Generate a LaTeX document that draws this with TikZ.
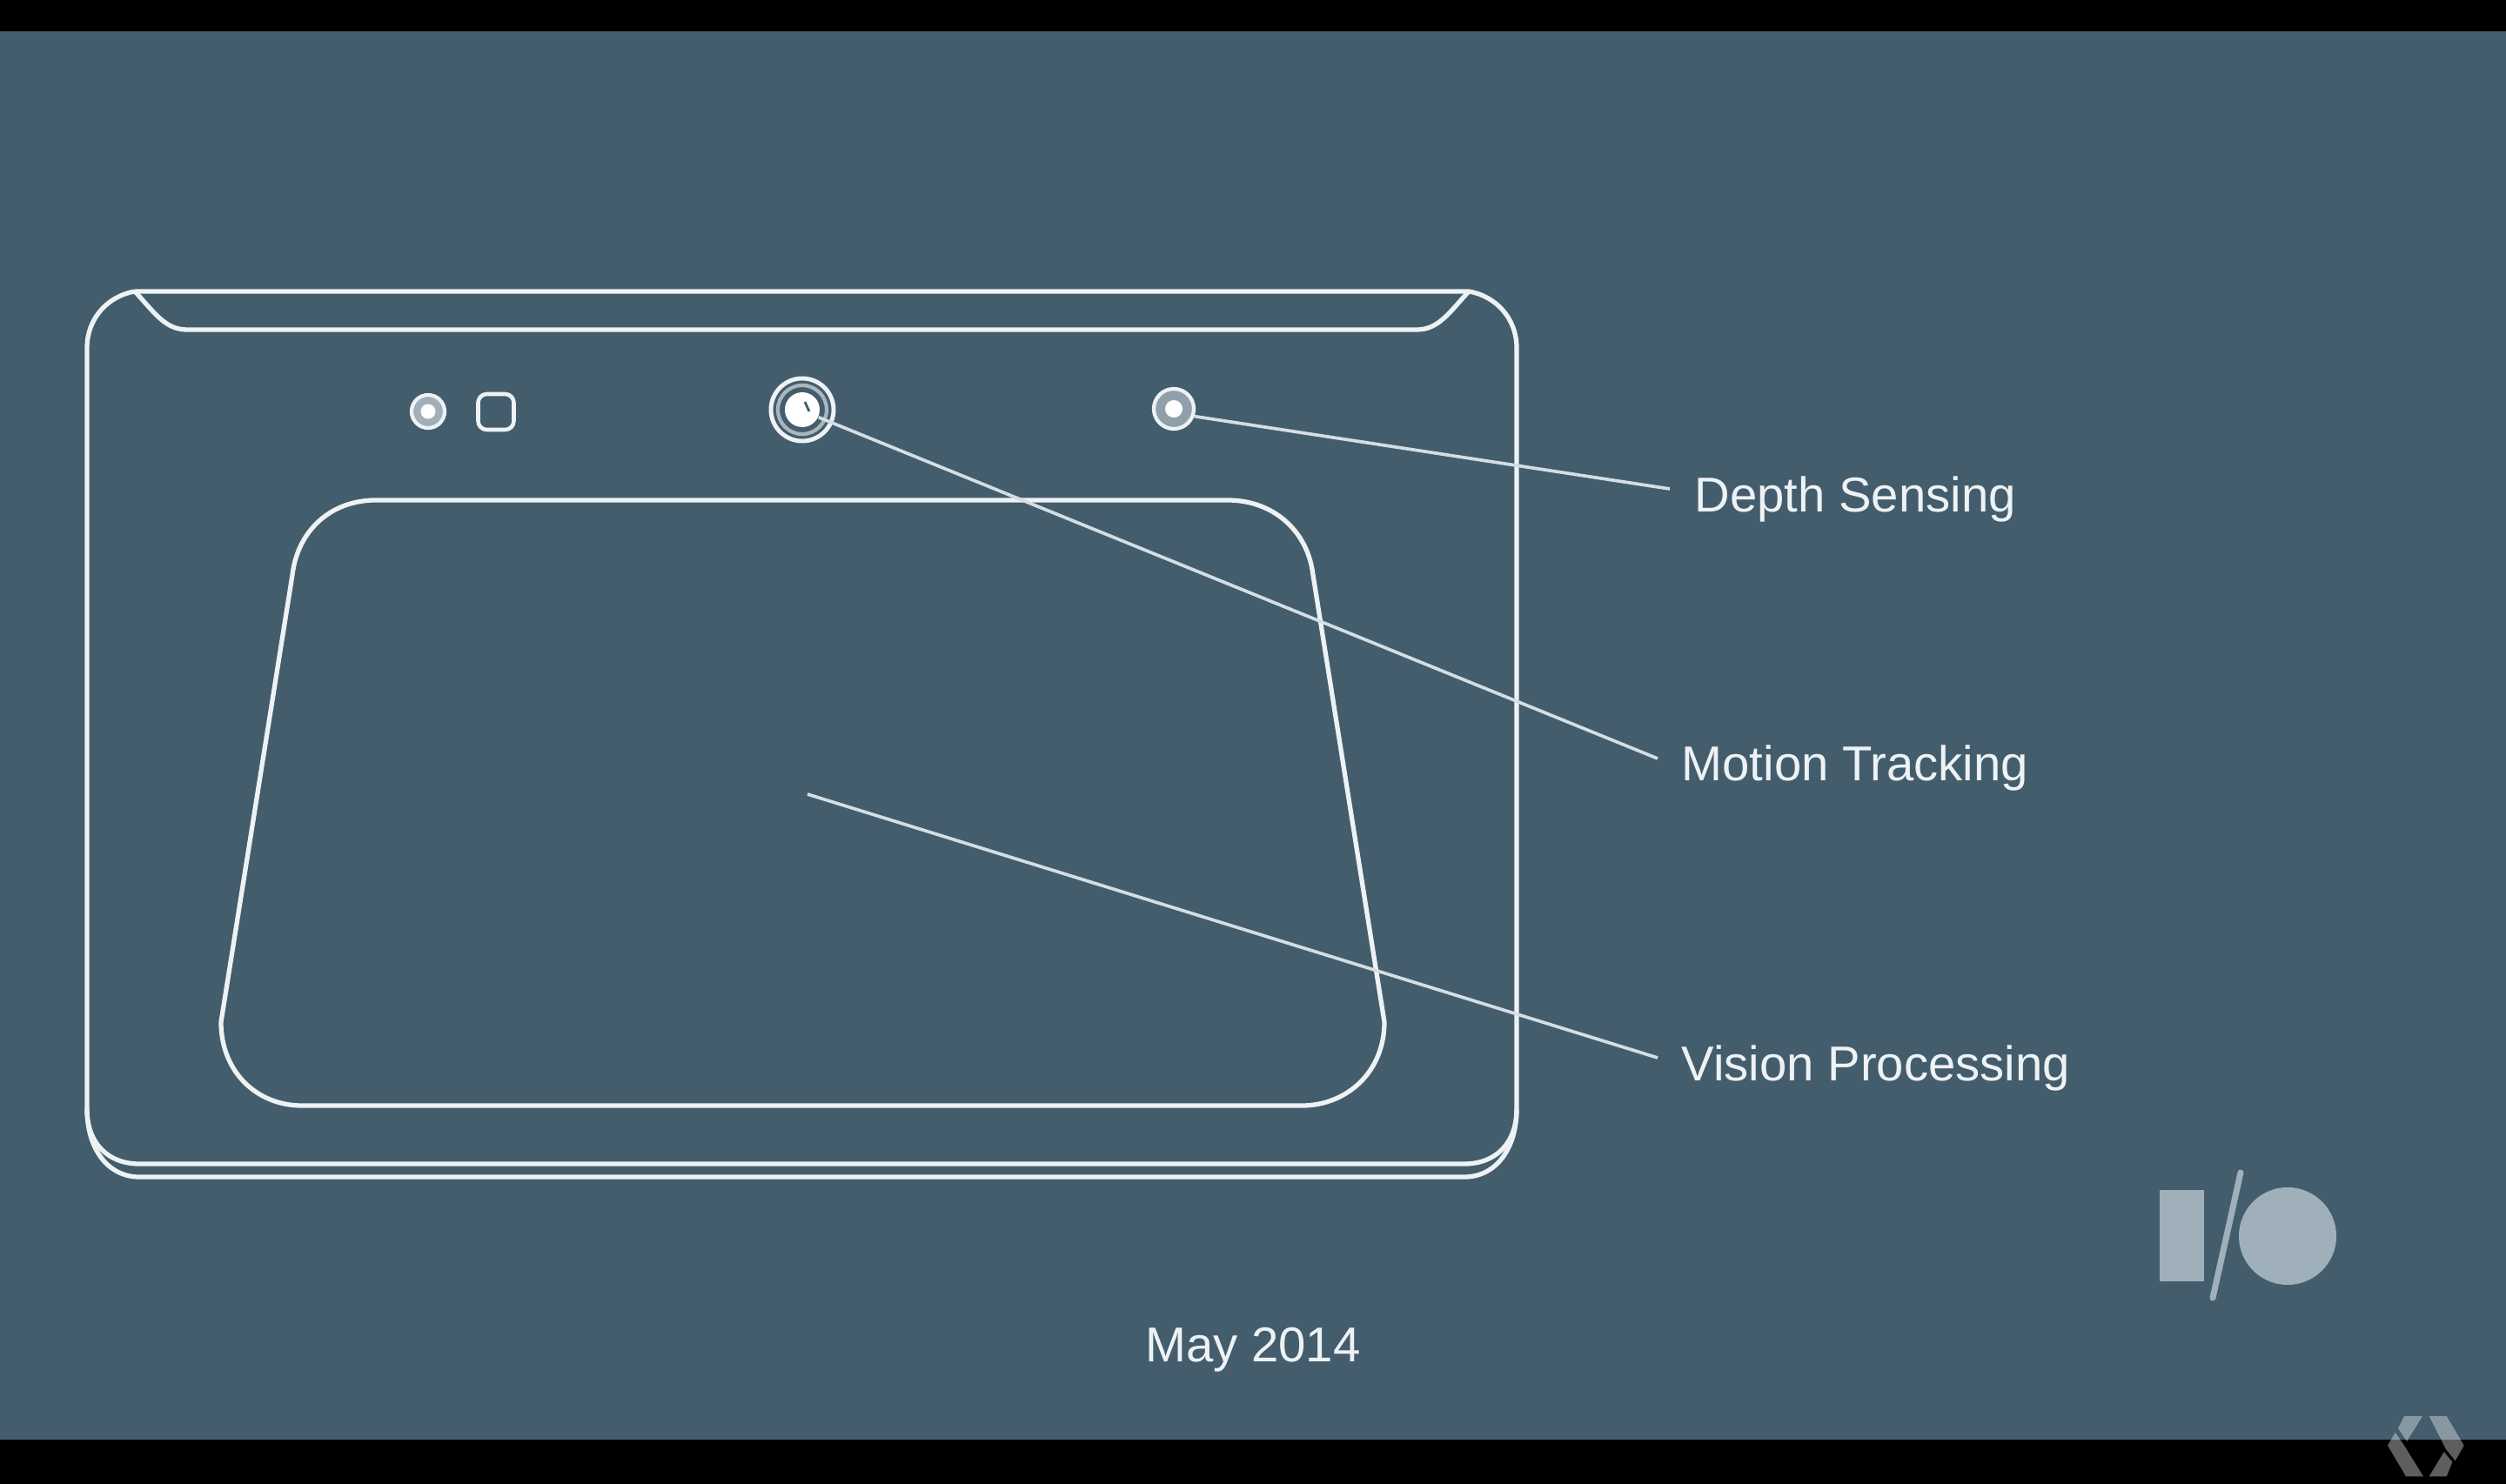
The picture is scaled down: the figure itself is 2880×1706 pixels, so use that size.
\documentclass[tikz,border=0pt]{standalone}
\usepackage{fontspec}
\setmainfont{Liberation Sans}
\definecolor{slatebg}{HTML}{445D6D}
\definecolor{outline}{HTML}{EDF2F4}
\definecolor{leadergrey}{HTML}{D5DEE3}
\definecolor{logogrey}{HTML}{9FB0BA}
\tikzset{
    body line/.style={draw=outline, line width=1.5pt},
    leader/.style={draw=leadergrey, line width=1.05pt},
    caption/.style={text=outline, font=\fontsize{16}{19}\selectfont, inner sep=0pt},
    badge/.style={fill=white, fill opacity=0.37},
}
\begin{document}
\begin{tikzpicture}[x=0.01cm, y=-0.01cm]
\useasboundingbox (0,0) rectangle (2880,1706);

\fill[black] (0,0) rectangle (2880,1706);
\fill[slatebg] (0,36) rectangle (2880,1655);

% Tablet outline
\draw[body line] (155,335) -- (1688,335) .. controls (1718,340) and (1743,365) .. (1743,400)
    -- (1743,1275) .. controls (1743,1315) and (1718,1338) .. (1683,1338) -- (160,1338)
    .. controls (125,1338) and (100,1315) .. (100,1275) -- (100,400)
    .. controls (100,365) and (125,340) .. (155,335);
% Lower edge
\draw[body line] (100,1275) .. controls (100,1322) and (125,1353) .. (160,1353) -- (1683,1353)
    .. controls (1718,1353) and (1743,1322) .. (1743,1275);
% Top notch
\draw[body line] (155,335) .. controls (178,360) and (190,379) .. (215,379) -- (1628,379)
    .. controls (1653,379) and (1665,360) .. (1688,335);

% Screen
\draw[body line] (432,575) -- (1411,575) .. controls (1463,575) and (1503,610) .. (1509,661)
    -- (1591,1175) .. controls (1591,1232) and (1548,1271) .. (1496,1271) -- (347,1271)
    .. controls (295,1271) and (254,1232) .. (254,1175) -- (336,661)
    .. controls (342,610) and (380,575) .. (432,575);

% Left sensors
\node[circle, draw=outline, line width=1.2pt, fill=outline!55!slatebg, minimum size=0.38cm, inner sep=0pt] (mic_ring) at (492,473) {};
\node[circle, fill=white, minimum size=0.17cm, inner sep=0pt] (mic_core) at (492,473) {};
\node[rectangle, rounded corners=0.1cm, draw=outline, line width=1.3pt, minimum width=0.41cm, minimum height=0.41cm, inner sep=0pt] (flash) at (570,473.5) {};

% Fisheye camera
\node[circle, draw=outline, line width=1.4pt, minimum size=0.72cm, inner sep=0pt] (motion_ring) at (922,471) {};
\node[circle, draw=outline!60!slatebg, line width=1.2pt, minimum size=0.56cm, inner sep=0pt] (motion_inner) at (922,471) {};
\node[circle, fill=white, minimum size=0.4cm, inner sep=0pt] (motion_cam) at (922,471) {};
\draw[slatebg, line width=0.8pt] (925,462) -- (930,473);

% Depth camera
\node[circle, draw=outline, line width=1.2pt, fill=outline!45!slatebg, minimum size=0.46cm, inner sep=0pt] (depth_ring) at (1349,470) {};
\node[circle, fill=white, minimum size=0.2cm, inner sep=0pt] (depth_cam) at (1349,470) {};

% Labels
\node[caption, anchor=west] (depth_label) at (1947,574) {Depth Sensing};
\node[caption, anchor=west] (motion_label) at (1932,883) {Motion Tracking};
\node[caption, anchor=west] (vision_label) at (1932,1228) {Vision Processing};
\node[caption] (date_label) at (1440,1552) {May 2014};

\coordinate (depth_end) at (1919,562);
\coordinate (motion_end) at (1905,872);
\coordinate (vision_end) at (1905,1216);
\coordinate (vision_start) at (928,913);

\draw[leader] (depth_ring.-20) -- (depth_end);
\draw[leader] (motion_cam.-25) -- (motion_end);
\draw[leader] (vision_start) -- (vision_end);

% I/O logo
\fill[logogrey] (2482,1368) rectangle (2533,1473);
\draw[logogrey, line width=2pt, line cap=round] (2575,1348) -- (2543,1492);
\node[circle, fill=logogrey, minimum size=1.12cm, inner sep=0pt] (logo_o) at (2629,1421) {};

% Corner badge
\fill[badge] (2763,1628) -- (2784,1628) -- (2766,1657) -- (2756,1642) -- cycle;
\fill[badge] (2752.7,1646.7) -- (2762.7,1661.3) -- (2785,1697.3) -- (2765,1697.3) -- (2744,1661.7) -- cycle;
\fill[badge] (2791.7,1628) -- (2811.7,1628) -- (2831.7,1661.7) -- (2821.7,1679.3) -- (2811,1666) -- cycle;
\fill[badge] (2791.7,1697.3) -- (2811.7,1697.3) -- (2818.3,1680.7) -- (2808.7,1669) -- cycle;

\end{tikzpicture}
\end{document}
